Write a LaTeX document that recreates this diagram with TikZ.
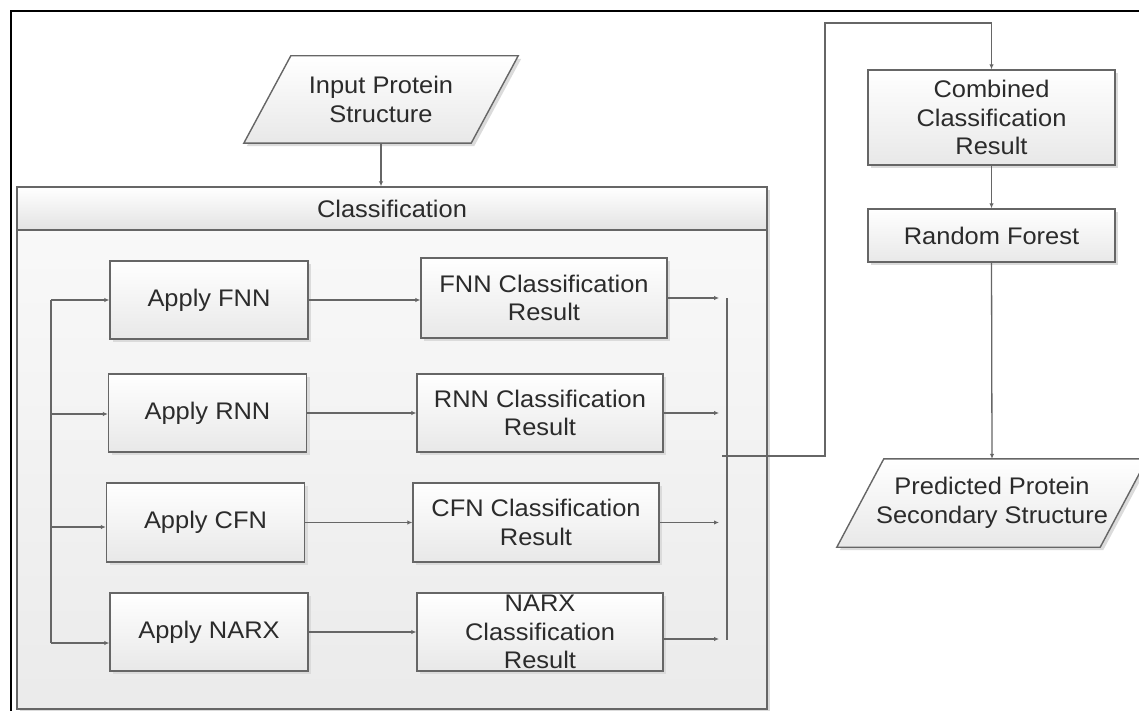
\documentclass[tikz,border=0pt]{standalone}
\usepackage{fontspec}
\setmainfont{Liberation Sans}[FakeStretch=1.06]
\usetikzlibrary{shadows,arrows.meta,calc}
\definecolor{ln}{HTML}{666666}
\definecolor{txt}{HTML}{2B2B2B}
\tikzset{
  conn/.style={draw=ln, line width=1.3pt},
  arr/.style={conn, -{Latex[length=5pt,width=4.5pt]}},
  shade box/.style={top color=white, bottom color=black!9},
  soft shadow/.style={drop shadow={shadow xshift=3pt, shadow yshift=-3pt, fill=black!14, opacity=1}},
  procbox/.style={draw=ln, line width=1.4pt, shade box, soft shadow,
    inner sep=0pt, align=center, minimum width=#1},
  iolabel/.style={inner sep=0pt, align=center, minimum width=#1},
  para/.style={draw=ln, line width=1.4pt, shade box, soft shadow},
}
\begin{document}
\begin{tikzpicture}[x=1pt, y=-1pt, font=\fontsize{24}{28.5}\selectfont, text=txt]
\useasboundingbox (0,0) rectangle (1139,711);

% outer frame
\draw[black, line width=1.3pt] (11,711) -- (11,11) -- (1139,11);

% classification container
\node[draw=ln, line width=1.4pt, top color=black!2, bottom color=black!8, soft shadow,
      minimum width=750, minimum height=522, inner sep=0pt] (cls) at (392,448) {};
\node[draw=ln, line width=1.4pt, top color=white, bottom color=black!11,
      minimum width=750, minimum height=43, inner sep=0pt] (clsh) at (392,208.5) {Classification};

% input / output parallelograms
\node[iolabel=227, minimum height=87] (inp) at (381,99.5) {Input Protein\\Structure};
\path[para] ($(inp.south west)+(-23.5,0)$) -- ($(inp.north west)+(23.5,0)$)
  -- ($(inp.north east)+(23.5,0)$) -- ($(inp.south east)+(-23.5,0)$) -- cycle;
\node[iolabel=227, minimum height=87] (inptxt) at (inp) {Input Protein\\Structure};

\node[iolabel=263, minimum height=88] (pred) at (992,503) {Predicted Protein\\Secondary Structure};
\path[para] ($(pred.south west)+(-23.5,0)$) -- ($(pred.north west)+(23.5,0)$)
  -- ($(pred.north east)+(23.5,0)$) -- ($(pred.south east)+(-23.5,0)$) -- cycle;
\node[iolabel=263, minimum height=88] (predtxt) at (pred) {Predicted Protein\\Secondary Structure};

% classifier boxes
\node[procbox=198, minimum height=78] (aFNN)  at (209,300)   {Apply FNN};
\node[procbox=198, minimum height=78] (aRNN)  at (207.5,413) {Apply RNN};
\node[procbox=198, minimum height=79] (aCFN)  at (205.5,522.5) {Apply CFN};
\node[procbox=198, minimum height=78] (aNARX) at (209,632)   {Apply NARX};

% result boxes
\node[procbox=246, minimum height=80] (rFNN)  at (544,298)   {FNN Classification\\Result};
\node[procbox=246, minimum height=78] (rRNN)  at (540,413)   {RNN Classification\\Result};
\node[procbox=246, minimum height=79] (rCFN)  at (536,522.5) {CFN Classification\\Result};
\node[procbox=246, minimum height=78] (rNARX) at (540,632)   {NARX\\Classification\\Result};

% right column
\node[procbox=247, minimum height=95] (comb) at (991.5,117.5) {Combined\\Classification\\Result};
\node[procbox=247, minimum height=53] (rf)   at (991.5,235.5) {Random Forest};

% input into the classification block
\draw[arr] (inp.south) -- (inp.south |- clsh.north);

% left distribution bus
\coordinate (b1) at (51,300);
\coordinate (b2) at (51,414);
\coordinate (b3) at (51,527);
\coordinate (b4) at (51,643);
\draw[conn] (b1) -- (b4);
\draw[arr] (b1) -- (aFNN.west |- b1);
\draw[arr] (b2) -- (aRNN.west |- b2);
\draw[arr] (b3) -- (aCFN.west |- b3);
\draw[arr] (b4) -- (aNARX.west |- b4);

% classifier to result
\draw[arr] (aFNN.east)  -- (rFNN.west |- aFNN.east);
\draw[arr] (aRNN.east)  -- (rRNN.west |- aRNN.east);
\draw[arr] (aCFN.east)  -- (rCFN.west |- aCFN.east);
\draw[arr] (aNARX.east) -- (rNARX.west |- aNARX.east);

% results into the collecting bus
\coordinate (tipx) at (719,0);
\coordinate (c1) at (727,298);
\coordinate (c4) at (727,640);
\coordinate (nx) at ($(rNARX.east)+(0,7)$);
\draw[conn] (c1) -- (c4);
\draw[arr] (rFNN.east)  -- (rFNN.east -| tipx);
\draw[arr] (rRNN.east)  -- (rRNN.east -| tipx);
\draw[arr] (rCFN.east)  -- (rCFN.east -| tipx);
\draw[arr] (nx) -- (nx -| tipx);

% combined output route
\coordinate (o1) at (722,456);
\coordinate (o2) at (825,456);
\coordinate (o3) at (825,23);
\draw[arr] (o1) -- (o2) -- (o3) -- (comb.north |- o3) -- (comb.north);

% final chain
\draw[arr] (comb.south) -- (rf.north);
\draw[arr] (rf.south) -- (pred.north);
\end{tikzpicture}
\end{document}
